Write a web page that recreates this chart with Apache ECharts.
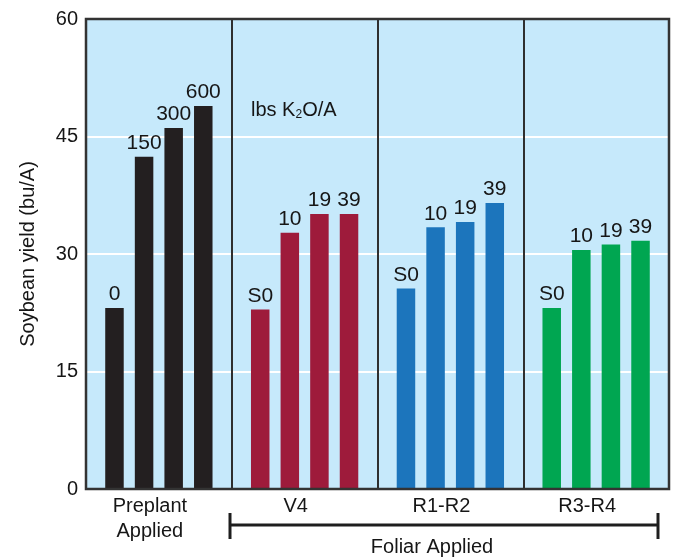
<!DOCTYPE html>
<html>
<head>
<meta charset="utf-8">
<script src="https://cdn.jsdelivr.net/npm/echarts@6/dist/echarts.min.js"></script>
<style>
html,body{margin:0;padding:0;background:#fff;}
#chart{width:676px;height:559px;}
</style>
</head>
<body>
<div id="chart"></div>
<script>
// ---- data ----
const groups = ['Preplant\nApplied', 'V4', 'R1-R2', 'R3-R4'];
const preplantRates = ['0', '150', '300', '600'];
const foliarRates = ['S0', '10', '19', '39'];
const preplantYield = [23.1, 42.4, 46.1, 48.9];
const v4Yield = [22.9, 32.7, 35.1, 35.1];
const r1r2Yield = [25.6, 33.4, 34.1, 36.5];
const r3r4Yield = [23.1, 30.5, 31.2, 31.7];
const groupColors = ['#231f20', '#9e1b3b', '#1c75bc', '#00a651'];
const yTitle = 'Soybean yield (bu/A)';
const foliarTitle = 'Foliar Applied';

const FONT = '"Liberation Sans", Arial, sans-serif';
const TXT = '#161616';
const G = {left: 86, top: 19, right: 7, bottom: 70};
const W = 676, H = 559;

const groupYields = [preplantYield, v4Yield, r1r2Yield, r3r4Yield];
const groupRates = [preplantRates, foliarRates, foliarRates, foliarRates];

const series = [0, 1, 2, 3].map(function (k) {
  return {
    type: 'bar',
    barWidth: 18.5,
    barGap: '60%',
    z: 3,
    data: groups.map(function (g, gi) {
      return {
        value: groupYields[gi][k],
        itemStyle: {color: groupColors[gi]},
        label: {formatter: groupRates[gi][k]}
      };
    }),
    label: {
      show: true,
      position: 'top',
      distance: 3,
      color: TXT,
      fontFamily: FONT,
      fontSize: 21
    }
  };
});

const chart = echarts.init(document.getElementById('chart'), null, {renderer: 'canvas'});
const plotW = W - G.left - G.right;
const plotH = H - G.top - G.bottom;

chart.setOption({
  animation: false,
  backgroundColor: '#ffffff',
  grid: {
    left: G.left, top: G.top, right: G.right, bottom: G.bottom,
    show: true, backgroundColor: '#c6e9fb', borderWidth: 0
  },
  xAxis: {
    type: 'category',
    data: groups,
    z: 2,
    axisLine: {show: false},
    axisTick: {show: false},
    splitLine: {show: true, lineStyle: {color: '#2f2f2f', width: 2}},
    axisLabel: {
      color: TXT, fontFamily: FONT, fontSize: 20, lineHeight: 25,
      margin: 5, padding: [0, 18, 0, 0]
    }
  },
  yAxis: {
    type: 'value',
    min: 0, max: 60, interval: 15,
    z: 1,
    name: yTitle,
    nameLocation: 'middle',
    nameGap: 48,
    nameRotate: 90,
    nameTextStyle: {color: TXT, fontFamily: FONT, fontSize: 20},
    axisLine: {show: false},
    axisTick: {show: false},
    splitLine: {show: true, lineStyle: {color: '#ffffff', width: 2}},
    axisLabel: {color: TXT, fontFamily: FONT, fontSize: 20, margin: 8}
  },
  series: series,
  graphic: [
    {
      type: 'rect', z: 100, silent: true,
      shape: {x: G.left, y: G.top, width: plotW, height: plotH},
      style: {fill: 'none', stroke: '#333333', lineWidth: 2.5}
    },
    {
      type: 'text', z: 100, left: 251, top: 100,
      style: {
        text: 'lbs K{sub|2}O/A',
        fill: TXT, font: '20px ' + FONT,
        rich: {sub: {fontSize: 12, fontFamily: FONT, fill: TXT, padding: [10, 0, 0, 0]}}
      }
    },
    {
      type: 'line', z: 100,
      shape: {x1: 230, y1: 525, x2: 658, y2: 525},
      style: {stroke: '#1e1e1e', lineWidth: 3}
    },
    {
      type: 'line', z: 100,
      shape: {x1: 230, y1: 513, x2: 230, y2: 539},
      style: {stroke: '#1e1e1e', lineWidth: 3}
    },
    {
      type: 'line', z: 100,
      shape: {x1: 658, y1: 513, x2: 658, y2: 539},
      style: {stroke: '#1e1e1e', lineWidth: 3}
    },
    {
      type: 'text', z: 100, x: 432, y: 547,
      style: {
        text: foliarTitle, fill: TXT, font: '20px ' + FONT,
        textAlign: 'center', textVerticalAlign: 'middle'
      }
    }
  ]
});
</script>
</body>
</html>
